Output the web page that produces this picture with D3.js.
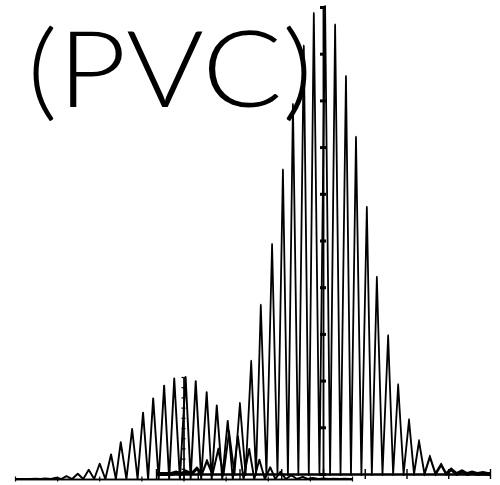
<!DOCTYPE html>
<html>
<head>
<meta charset="utf-8">
<script src="https://cdn.jsdelivr.net/npm/d3@7"></script>
<style>
  html, body { margin: 0; padding: 0; background: #fff; }
  svg { display: block; }
</style>
</head>
<body>
<svg id="chart" width="500" height="485"></svg>
<script>
// Wave packet: peak positions (x), peak amplitudes, and the zero crossings between them
const xTicks = [-4, -3, -2, -1, 0, 1, 2, 3, 4];
const yTicks = [0, 1, 2, 3, 4, 5, 6, 7, 8, 9, 10];
const peakX = [-3.52, -3.28, -3.02, -2.78, -2.51, -2.25, -1.99, -1.72, -1.49, -1.22,
               -0.96, -0.72, -0.46, -0.22, 0.05, 0.29, 0.55, 0.79, 1.05, 1.29,
               1.56, 1.80, 2.06, 2.30, 2.56, 2.83, 3.07, 3.33, 3.57, 3.83];
const peakV = [0.03, 0.05, 0.12, 0.28, 0.52, 0.9, 1.5, 2.4, 3.6, 4.9,
               6.5, 7.9, 9.15, 9.85, 10.0, 9.6, 8.5, 7.2, 5.7, 4.2,
               2.95, 1.9, 1.15, 0.7, 0.37, 0.2, 0.1, 0.06, 0.03, 0.02];
const troughX = [-3.64, -3.40, -3.15, -2.90, -2.645, -2.38, -2.12, -1.855, -1.605, -1.355,
                 -1.09, -0.84, -0.59, -0.34, -0.085, 0.17, 0.42, 0.67, 0.92, 1.17,
                 1.425, 1.68, 1.93, 2.18, 2.43, 2.695, 2.95, 3.20, 3.45, 3.70, 3.95];
const label = "(PVC)";

// Polyline: start, trough/peak alternation, end
const pts = [[xTicks[0], 0]];
for (let i = 0; i < peakX.length; i++) {
  pts.push([troughX[i], 0]);
  pts.push([peakX[i], peakV[i]]);
}
pts.push([troughX[troughX.length - 1], 0]);
pts.push([xTicks[xTicks.length - 1], 0]);

const svg = d3.select("#chart");

svg.append("text")
  .attr("x", 27)
  .attr("y", 107)
  .attr("font-family", "Lato, 'Noto Sans', sans-serif")
  .attr("font-weight", 300)
  .attr("font-size", 107)
  .attr("textLength", 286)
  .attr("lengthAdjust", "spacingAndGlyphs")
  .attr("fill", "#000")
  .text(label);

function crossAxis(g, axisA, axisB, width) {
  g.append("g").call(axisA);
  g.append("g").call(axisB);
  g.selectAll("path.domain").attr("stroke", "#000").attr("stroke-width", width);
  g.selectAll(".tick line").attr("stroke", "#000");
  g.selectAll(".tick text").remove();
}

// ---------- small panel ----------
const xB = d3.scaleLinear().domain([-4, 4]).range([15, 352]);
const yB = d3.scaleLinear().domain([0, 10]).range([479, 377]);

const gB = svg.append("g");
gB.append("path")
  .datum(pts)
  .attr("fill", "none")
  .attr("stroke", "#000")
  .attr("stroke-width", 1.9)
  .attr("stroke-linejoin", "round")
  .attr("d", d3.line().x(d => xB(d[0])).y(d => yB(d[1])));

const bx = gB.append("g").attr("transform", `translate(0,${yB(0)})`);
crossAxis(bx,
  d3.axisBottom(xB).tickValues(xTicks).tickSize(2.5).tickSizeOuter(0),
  d3.axisTop(xB).tickValues(xTicks).tickSize(2.5).tickSizeOuter(0), 1.3);
bx.selectAll(".tick line").attr("stroke-width", 1.2);

const by = gB.append("g").attr("transform", `translate(${xB(0)},0)`);
crossAxis(by,
  d3.axisLeft(yB).tickValues(yTicks).tickSize(2).tickSizeOuter(0),
  d3.axisRight(yB).tickValues(yTicks).tickSize(2).tickSizeOuter(0), 1.2);
by.selectAll(".tick line").attr("stroke-width", 1.2);

// ---------- large panel ----------
const xA = d3.scaleLinear().domain([-4, 4]).range([156, 490]);
const yA = d3.scaleLinear().domain([0, 10]).range([474, 7]);

// The trace is drawn in a vertically compressed frame and stretched back,
// so flat runs come out heavier than the steep flanks.
const stretch = 2.3;
const yAc = d3.scaleLinear().domain([0, 10]).range([0, -(yA(0) - yA(10)) / stretch]);
const gA = svg.append("g");
gA.append("g")
  .attr("transform", `translate(0,${yA(0)}) scale(1,${stretch})`)
  .append("path")
  .datum(pts)
  .attr("fill", "none")
  .attr("stroke", "#000")
  .attr("stroke-width", 1.8)
  .attr("stroke-linejoin", "round")
  .attr("d", d3.line().x(d => xA(d[0])).y(d => yAc(d[1])));

const ax = gA.append("g").attr("transform", `translate(0,${yA(0)})`);
crossAxis(ax,
  d3.axisBottom(xA).tickValues(xTicks).tickSize(5).tickSizeOuter(0),
  d3.axisTop(xA).tickValues(xTicks).tickSize(5).tickSizeOuter(0), 2.2);
ax.selectAll(".tick line").attr("stroke-width", 1.4);

const ay = gA.append("g").attr("transform", `translate(${xA(0)},0)`);
crossAxis(ay,
  d3.axisLeft(yA).tickValues(yTicks).tickSize(3).tickSizeOuter(0),
  d3.axisRight(yA).tickValues(yTicks).tickSize(3).tickSizeOuter(0), 1.5);
ay.selectAll(".tick line").attr("stroke-width", 3);
</script>
</body>
</html>
